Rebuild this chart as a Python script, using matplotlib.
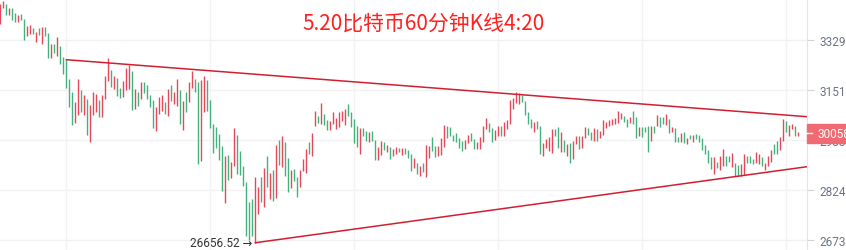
import matplotlib
matplotlib.use("Agg")
import matplotlib.pyplot as plt
from matplotlib.patches import Rectangle
from matplotlib.lines import Line2D

plt.rcParams['font.family'] = ['Roboto', 'DejaVu Sans']

# 数据: 每根K线的最高/最低价, r=阳线(红), g=阴线(绿)
title = "5.20比特币60分钟K线4:20"

highs = [
    34651, 34763, 34651, 34500, 34500, 34312, 34237, 34275, 34087, 33823,
    33861, 33748, 33598, 33748, 33786, 33786, 33560, 33155, 33155, 33410,
    33084, 32692, 32586, 31910, 31452, 31115, 31910, 31519, 31351, 31216,
    31014, 31452, 31384, 31182, 31351, 32017, 32657, 32230, 32017, 31946,
    31590, 31839, 32301, 32408, 32195, 31555, 31452, 31803, 31803, 31697,
    31351, 31182, 30947, 31283, 31351, 31115, 31555, 31697, 31452, 31910,
    31519, 31149, 31452, 31803, 32195, 31910, 31803, 31875, 32017, 31875,
    31182, 30375, 30274, 30038, 29645, 29327, 29358, 29136, 30240, 30004,
    29486, 29008, 28499, 27882, 27973, 28658, 28340, 28658, 28944, 29327,
    28785, 28881, 29677, 29836, 29971, 29772, 29263, 28881, 28913, 28658,
    28881, 29231, 29549, 29772, 30072, 30812, 30644, 31081, 30711, 30509,
    30476, 30778, 30577, 30778, 30812, 30879, 31048, 30778, 30543, 30307,
    30240, 30240, 30139, 30105, 30139, 29836, 29613, 29804, 29772, 29677,
    29613, 29549, 29613, 29581, 29581, 29581, 29518, 29390, 29263, 29104,
    29008, 29104, 29677, 29645, 29937, 29645, 29645, 29903, 30341, 30307,
    30274, 30004, 30072, 29903, 29804, 29836, 30004, 30072, 29870, 29772,
    29937, 30307, 30577, 30408, 30240, 30173, 30307, 30307, 30442, 30509,
    31182, 31250, 31452, 31418, 31351, 31149, 30778, 30543, 30442, 30476,
    30307, 29740, 29870, 29937, 30206, 30206, 30274, 30105, 29836, 29709,
    29740, 29804, 29971, 29971, 29971, 30274, 30240, 30105, 30240, 30206,
    30139, 30509, 30442, 30509, 30543, 30577, 30812, 30745, 30644, 30543,
    30610, 30812, 30610, 30274, 30274, 30274, 30307, 30307, 30307, 30678,
    30610, 30610, 30711, 30543, 30274, 30240, 29937, 30072, 30105, 29903,
    30004, 30004, 30038, 30004, 29903, 29677, 29518, 29295, 29295, 29136,
    29327, 29549, 29327, 29327, 29422, 29104, 29040, 29072, 29390, 29327,
    29327, 29231, 29454, 29390, 29295, 29104, 29327, 29518, 29709, 29804,
    29937, 30543, 30476, 30341, 30375, 30307, 30105,
]

lows = [
    33899, 34500, 34237, 34237, 34049, 33974, 33974, 34049, 33297, 33447,
    33523, 33523, 33226, 33485, 33155, 33447, 32657, 32657, 32835, 32728,
    32444, 32088, 31590, 30947, 30341, 30408, 30678, 30778, 30678, 30004,
    29772, 30678, 30778, 30610, 30610, 31216, 31839, 31626, 31555, 31317,
    31250, 31283, 31519, 31555, 30846, 30879, 30980, 31216, 31418, 31216,
    30947, 30240, 30139, 30711, 30812, 30711, 30644, 31149, 31048, 30980,
    30375, 30173, 30778, 31115, 31590, 31452, 29072, 29167, 30778, 30812,
    30240, 29422, 29581, 29199, 28214, 27852, 28562, 28626, 29008, 28753,
    28722, 28371, 26858, 26737, 26858, 26656.52, 27521, 27882, 27732, 28340,
    27973, 27912, 28003, 29040, 28976, 28690, 28184, 28308, 28530, 28033,
    28340, 28849, 28785, 29390, 29327, 30307, 30408, 30375, 30341, 30173,
    30173, 30375, 30206, 30274, 30476, 30341, 30644, 30274, 29740, 29613,
    29390, 29971, 29804, 29772, 29804, 29199, 29199, 29358, 29518, 29454,
    29231, 29327, 29390, 29454, 29358, 29390, 29263, 28849, 28944, 28753,
    28690, 28817, 28658, 29263, 29486, 29295, 29327, 29358, 29613, 29903,
    29971, 29804, 29772, 29581, 29486, 29549, 29740, 29804, 29549, 29549,
    29549, 29772, 30206, 30105, 29772, 29836, 29971, 29971, 29971, 30206,
    30375, 30879, 31081, 31048, 31115, 30678, 30375, 30240, 30105, 30206,
    29390, 29327, 29581, 29486, 29422, 29971, 29581, 29454, 29454, 29327,
    29104, 29231, 29709, 29549, 29581, 29903, 30004, 29836, 29804, 29804,
    29903, 30004, 30240, 30307, 30341, 30375, 30408, 30543, 30442, 30274,
    30408, 30375, 29903, 29971, 29937, 30105, 29454, 29804, 30072, 30307,
    30274, 30375, 30341, 30072, 30105, 29772, 29772, 29772, 29740, 29709,
    29870, 29772, 29870, 29772, 29518, 29390, 29104, 28913, 28753, 28944,
    28881, 29008, 29008, 29136, 28976, 28690, 28690, 28690, 28722, 29104,
    29104, 29072, 29104, 29072, 29008, 28881, 29008, 29136, 29390, 29390,
    29518, 29804, 30105, 29971, 30206, 29971, 29971,
]

direction = (
    "rrgrggrggr" "rgrgrggrgr" "gggggrrgrg" "rrrgrrrgrg" "grrrgrgrgg"
    "ggrrrgrgrr" "grgrrggrrg" "gggggrgrrg" "gggggrrgrg" "rgrgrggrgg"
    "rrrgrrgrgg" "rrrrrrgggg" "rggrggrrgr" "grrgrgggrg" "rgrrggrrrg"
    "gggggrrggr" "rrrggrrgrr" "rrrrggggrg" "grrrrggrgr" "grrgrrggrg"
    "rrrrrrrrgg" "rggrgggrgr" "ggrgrggrgr" "grggggggrg" "rrggrggrrg"
    "ggrrgrrrgg" "rrgrrgr"
)

price_ticks = [26737, 28244, 29836, 31519, 33297]
last_price = 30058
low_index = 85
low_price = 26656.52
grid_x = [22, 70, 118, 166, 214, 262]

# 三角形趋势线 (K线序号, 价格)
upper_x = [22, 268.89]
upper_y = [32586, 30610]
lower_x = [85, 268.89]
lower_y = [26656.52, 28976]

red = '#e5485b'
green = '#44b07c'

fig = plt.figure(figsize=(8.46, 2.51), dpi=100)
ax = fig.add_axes([0, 0, 807 / 846, 1])

xs = range(len(highs))
colors = [red if d == 'r' else green for d in direction]
ax.vlines(xs, lows, highs, colors=colors, lw=1.0, zorder=3)

ax.plot(upper_x, upper_y, color='#d21f30', lw=1.1, zorder=4)
ax.plot(lower_x, lower_y, color='#d21f30', lw=1.1, zorder=4)

ax.set_yscale('log')
ax.set_ylim(26445, 34830)
ax.set_xlim(-0.11, 268.89)
ax.set_yticks(price_ticks, [str(p) for p in price_ticks])
ax.minorticks_off()
ax.set_xticks(grid_x, [])
ax.yaxis.tick_right()
ax.tick_params(axis='x', length=0)
ax.tick_params(axis='y', length=5, color='#d0d4d9', labelcolor='#6b7385',
               labelsize=8.5, pad=4)
ax.grid(color='#f2f2f2', lw=1)
ax.set_axisbelow(True)
for s in ['top', 'left', 'bottom']:
    ax.spines[s].set_visible(False)
ax.spines['right'].set_color('#e3e5e8')

ax.text(low_index - 1, low_price, "26656.52 →", ha='right', va='center',
        fontsize=8.5, color='#333333', zorder=5)

# 最新价标签
y_disp = ax.transData.transform((0, last_price))[1]
yc = y_disp / fig.bbox.height
h = 19 / 251
fig.add_artist(Rectangle((807 / 846, yc - h / 2), 39 / 846, h,
                         transform=fig.transFigure, color='#ef6a72', zorder=5))
fig.add_artist(Line2D([807 / 846, 812 / 846], [yc, yc], transform=fig.transFigure,
                      color='white', lw=1, zorder=6))
fig.text(817 / 846, yc, str(last_price), color='white', fontsize=8.5,
         ha='left', va='center', zorder=6)

fig.text(423.5 / 846, 1 - 24 / 251, title, color='#ff2020', fontsize=15,
         ha='center', va='center', family=['Noto Sans CJK SC', 'DejaVu Sans'])

fig.savefig('out.png', dpi=100)
